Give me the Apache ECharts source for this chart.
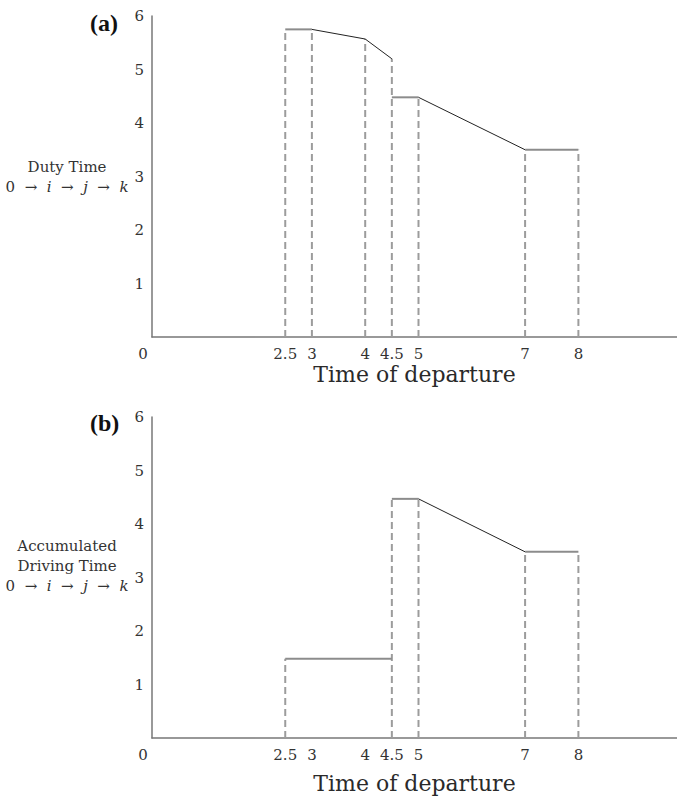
<!DOCTYPE html>
<html>
<head>
<meta charset="utf-8">
<script src="https://cdn.jsdelivr.net/npm/echarts@6/dist/echarts.min.js"></script>
<style>
  html, body { margin: 0; padding: 0; background: #fff; }
  #main { width: 677px; height: 796px; }
</style>
</head>
<body>
<div id="main"></div>
<script>
// tick labels on the time axis
const xTicks = [0, 2.5, 3, 4, 4.5, 5, 7, 8];

// (a) duty time 0 -> i -> j -> k against time of departure
const dutyX = [2.5, 3, 4, 4.5, 4.5, 5, 7, 8];
const dutyY = [5.75, 5.75, 5.57, 5.2, 4.48, 4.48, 3.5, 3.5];

// (b) accumulated driving time
const driveX = [2.5, 4.5, 4.5, 5, 7, 8];
const driveY = [1.48, 1.48, 4.47, 4.47, 3.48, 3.48];

const FONT = "DejaVu Serif";

function buildSeries(xs, ys, idx) {
    let out = [];
    // dashed drop lines down to the axis, one per departure time
    let tops = {};
    for (let i = 0; i < xs.length; i++) {
        if (tops[xs[i]] === undefined || ys[i] > tops[xs[i]]) tops[xs[i]] = ys[i];
    }
    Object.keys(tops).forEach(function (k) {
        out.push({
            type: "line", xAxisIndex: idx, yAxisIndex: idx, silent: true,
            symbol: "none",
            data: [[+k, 0], [+k, tops[k]]],
            lineStyle: { color: "#9c9c9c", width: 2, type: [7, 4] }
        });
    });
    // solid pieces between break points (skip the vertical jumps)
    for (let i = 0; i < xs.length - 1; i++) {
        if (xs[i] === xs[i + 1]) continue;
        let flat = ys[i] === ys[i + 1];
        out.push({
            type: "line", xAxisIndex: idx, yAxisIndex: idx, silent: true,
            symbol: "none",
            data: [[xs[i], ys[i]], [xs[i + 1], ys[i + 1]]],
            lineStyle: flat ? { color: "#8c8c8c", width: 2 } : { color: "#222", width: 1 }
        });
    }
    return out;
}

function xAxisFor(idx, gap) {
    return {
        type: "value", gridIndex: idx, min: 0, max: 9.85,
        name: "Time of departure", nameLocation: "middle", nameGap: gap,
        nameTextStyle: { fontFamily: FONT, fontSize: 22, color: "#2a2a2a" },
        axisLine: { show: true, lineStyle: { color: "#777", width: 1.5 } },
        axisTick: { show: false },
        splitLine: { show: false },
        axisLabel: {
            customValues: xTicks,
            margin: 9,
            fontFamily: FONT, fontSize: 15, color: "#333",
            formatter: function (v) { return v === 0 ? "{z|0}" : String(v); },
            rich: { z: { fontFamily: FONT, fontSize: 15, color: "#333", padding: [0, 18, 0, 0] } }
        }
    };
}

const arrowRich = {
    it: { fontFamily: FONT, fontStyle: "italic", fontSize: 15, color: "#333" }
};

function yAxisFor(idx, name, pad) {
    return {
        type: "value", gridIndex: idx, min: 0, max: 6, interval: 1,
        name: name, nameLocation: "middle", nameRotate: 0, nameGap: 84,
        nameTextStyle: {
            fontFamily: FONT, fontSize: 15, color: "#333", lineHeight: 20,
            align: "center", padding: pad, rich: arrowRich
        },
        axisLine: { show: true, lineStyle: { color: "#777", width: 1.5 } },
        axisTick: { show: false },
        splitLine: { show: false },
        axisLabel: {
            margin: 8, fontFamily: FONT, fontSize: 15, color: "#333",
            formatter: function (v) { return v === 0 ? "" : v; }
        }
    };
}

const arrows = "0  →  {it|i}  →  {it|j}  →  {it|k}";

const chart = echarts.init(document.getElementById("main"), null, { renderer: "svg" });
chart.setOption({
    animation: false,
    title: [
        { text: "(a)", left: 85, top: 6, textStyle: { fontFamily: "Liberation Serif", fontWeight: "bold", fontSize: 24, color: "#111" } },
        { text: "(b)", left: 85, top: 406, textStyle: { fontFamily: "Liberation Serif", fontWeight: "bold", fontSize: 24, color: "#111" } }
    ],
    grid: [
        { left: 152, top: 16, width: 525, height: 321 },
        { left: 152, top: 417, width: 525, height: 321 }
    ],
    xAxis: [xAxisFor(0, 26), xAxisFor(1, 34)],
    yAxis: [
        yAxisFor(0, "Duty Time\n" + arrows, [0, 0, 0, 0]),
        yAxisFor(1, "Accumulated\nDriving Time\n" + arrows, [0, 0, 24, 0])
    ],
    series: buildSeries(dutyX, dutyY, 0).concat(buildSeries(driveX, driveY, 1))
});
</script>
</body>
</html>
